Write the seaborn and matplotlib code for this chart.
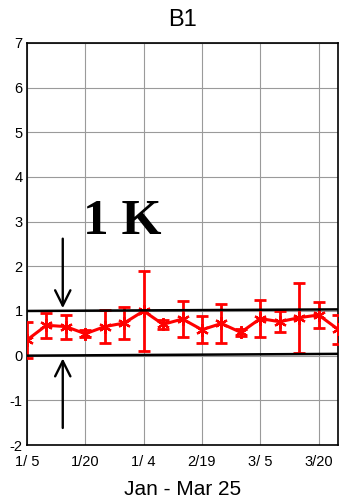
import numpy as np
import pandas as pd
import matplotlib
matplotlib.use("Agg")
import matplotlib.pyplot as plt
import seaborn as sns

# Days since Jan 5, sampled every 5 days
days = [0, 5, 10, 15, 20, 25, 30, 35, 40, 45, 50, 55, 60, 65, 70, 75, 80]
mean_k = [0.35, 0.68, 0.65, 0.49, 0.65, 0.73, 1.00, 0.70, 0.82, 0.58, 0.72, 0.52, 0.83, 0.76, 0.85, 0.91, 0.59]
err_k = [0.40, 0.28, 0.27, 0.08, 0.37, 0.36, 0.90, 0.10, 0.40, 0.30, 0.44, 0.07, 0.41, 0.23, 0.78, 0.30, 0.32]

# Reference band lines (start, end values)
band_x = [0, 80]
upper_band = [1.00, 1.035]
lower_band = [0.00, 0.04]

tick_days = [0, 15, 30, 45, 60, 75]
tick_labels = ["1/ 5", "1/20", "1/ 4", "2/19", "3/ 5", "3/20"]
y_ticks = [-2, -1, 0, 1, 2, 3, 4, 5, 6, 7]

sns.set_style("white")
plt.rcParams["font.family"] = ["Liberation Sans", "DejaVu Sans"]
plt.rcParams["axes.unicode_minus"] = False
plt.rcParams["text.color"] = "black"
plt.rcParams["axes.labelcolor"] = "black"
plt.rcParams["xtick.color"] = "black"
plt.rcParams["ytick.color"] = "black"

fig = plt.figure(figsize=(3.46, 5.04), dpi=100)
ax = fig.add_axes([0.078, 0.117, 0.899, 0.798])

df = pd.DataFrame({"day": days, "k": mean_k})

ax.errorbar(days, mean_k, yerr=err_k, fmt="none", ecolor="red",
            elinewidth=2, capsize=4, capthick=2, zorder=3)
sns.lineplot(data=df, x="day", y="k", ax=ax, color="red", linewidth=2.2,
             marker=(6, 2, 0), markersize=9, markeredgewidth=1.6,
             markeredgecolor="red", zorder=4)

ax.plot(band_x, upper_band, color="black", linewidth=1.8, zorder=5)
ax.plot(band_x, lower_band, color="black", linewidth=1.8, zorder=5)

# Arrows marking the 1 K band
arrow_style = dict(arrowstyle="->,head_length=1.1,head_width=0.55",
                   color="black", lw=1.7)
ax.annotate("", xy=(9.2, 1.0), xytext=(9.2, 2.68), arrowprops=arrow_style)
ax.annotate("", xy=(9.2, 0.0), xytext=(9.2, -1.68), arrowprops=arrow_style)
ax.text(24.5, 3.0, "1 K", fontsize=37, fontweight="bold", color="black",
        family=["Liberation Serif", "DejaVu Serif"], ha="center", va="center")

ax.set_xlim(0, 80)
ax.set_ylim(-2, 7)
ax.set_xticks(tick_days)
ax.set_xticklabels(tick_labels)
ax.set_yticks(y_ticks)
ax.grid(True, color="#9a9a9a", linewidth=0.8)
ax.tick_params(direction="in", length=3, labelsize=10.5)
ax.tick_params(axis="x", pad=7)
ax.tick_params(axis="y", pad=3)
for s in ax.spines.values():
    s.set_color("black")
    s.set_linewidth(1.2)

ax.set_xlabel("Jan - Mar 25", fontsize=15, labelpad=8)
ax.set_ylabel("")
ax.set_title("B1", fontsize=17, pad=12)

fig.savefig("out.png", dpi=100)
